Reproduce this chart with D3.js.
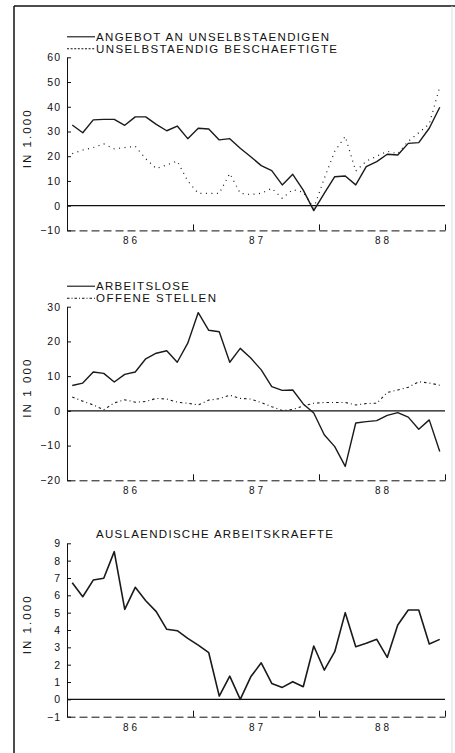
<!DOCTYPE html>
<html>
<head>
    <meta charset="utf-8">
    <title>Arbeitsmarkt 1986-1988</title>
    <script src="https://d3js.org/d3.v7.min.js"></script>
    <style>
        body {
            padding: 0;
            margin: 0;
            background: #fff;
        }

        text {
            font-family: "Liberation Sans", Arial, sans-serif;
            fill: #111;
        }

        .axis path, .axis line {
            stroke: #111;
        }
    </style>
</head>
<body>
    <svg id="svg" width="455" height="753"></svg>

    <script>
        // Categories: monthly values Jan 86 .. Dec 88.
        const years = ["86", "87", "88"];
        const months = years.flatMap(y => d3.range(1, 13).map(m => y + "-" + m));

        // Panel 1 (in 1.000)
        const angebot = [32.6, 29.5, 34.7, 34.9, 34.9, 32.5, 35.9, 35.9, 32.9, 30.3, 32.2, 27.1,
                         31.3, 31.0, 26.6, 27.1, 23.2, 19.8, 16.2, 14.2, 8.4, 12.7, 6.3, -2.0,
                         5.0, 11.7, 12.0, 8.4, 15.8, 17.8, 20.8, 20.5, 25.2, 25.5, 31.3, 39.8];
        const beschaeftigte = [21.0, 22.5, 23.5, 25.0, 23.0, 23.5, 24.0, 19.0, 15.0, 16.5, 18.0, 10.0,
                               5.0, 5.0, 5.0, 13.0, 5.0, 4.5, 5.0, 7.0, 3.0, 6.5, 5.5, -1.0,
                               11.0, 22.0, 28.0, 14.0, 18.0, 20.0, 22.0, 21.0, 26.0, 29.5, 33.0, 48.0];

        // Panel 2 (in 1 000)
        const arbeitslose = [7.3, 8.0, 11.2, 10.8, 8.3, 10.5, 11.2, 15.0, 16.6, 17.3, 14.0, 19.5,
                             28.3, 23.2, 22.8, 14.0, 18.0, 15.2, 11.8, 7.0, 5.9, 6.0, 2.0, -0.6,
                             -6.9, -10.3, -16.0, -3.5, -3.1, -2.8, -1.3, -0.5, -1.8, -5.3, -2.6, -11.7];
        const offeneStellen = [4.0, 2.8, 1.7, 0.3, 2.3, 3.2, 2.5, 2.7, 3.6, 3.4, 2.5, 2.2,
                               1.7, 3.1, 3.5, 4.5, 3.6, 3.4, 2.4, 1.2, 0.1, 0.4, 1.4, 2.2,
                               2.4, 2.4, 2.4, 1.7, 2.1, 2.2, 5.3, 6.0, 6.8, 8.4, 8.0, 7.4];

        // Panel 3 (in 1.000)
        const auslaender = [6.73, 5.92, 6.88, 6.98, 8.52, 5.19, 6.46, 5.69, 5.06, 4.04, 3.96, 3.52,
                            3.13, 2.69, 0.19, 1.34, 0.0, 1.3, 2.11, 0.92, 0.69, 1.02, 0.73, 3.08,
                            1.69, 2.75, 5.0, 3.04, 3.23, 3.46, 2.42, 4.29, 5.15, 5.15, 3.19, 3.46];

        const ticks1 = [60, 50, 40, 30, 20, 10, 0, -10];
        const ticks2 = [30, 20, 10, 0, -10, -20];
        const ticks3 = [9, 8, 7, 6, 5, 4, 3, 2, 1, 0, -1];

        const svg = d3.select("svg");
        const left = 67, right = 445;

        const x = d3.scaleBand().domain(months).range([left, right]).padding(0);
        const xc = m => x(m) + x.bandwidth() / 2;
        const xEdge = d3.scaleLinear().domain([0, 36]).range([left, right]);

        const panels = [
            {
                top: 57.3, bottom: 230.4, domain: [-10, 60], ticks: ticks1, unit: "IN 1.000",
                legend: [
                    { text: "ANGEBOT AN UNSELBSTAENDIGEN", len: 233, dash: null },
                    { text: "UNSELBSTAENDIG BESCHAEFTIGTE", len: 241, dash: "2,1.6" }
                ],
                series: [
                    { values: angebot, dash: null, width: 1.4 },
                    { values: beschaeftigte, dash: "1,4.5", width: 1.2 }
                ]
            },
            {
                top: 306.7, bottom: 480.3, domain: [-20, 30], ticks: ticks2, unit: "IN 1 000",
                legend: [
                    { text: "ARBEITSLOSE", len: 93, dash: null },
                    { text: "OFFENE STELLEN", len: 120, dash: "2.5,2,1,2" }
                ],
                series: [
                    { values: arbeitslose, dash: null, width: 1.4 },
                    { values: offeneStellen, dash: "2.5,3,1,3", width: 1.1 }
                ]
            },
            {
                top: 543.3, bottom: 716.7, domain: [-1, 9], ticks: ticks3, unit: "IN 1.000",
                title: { text: "AUSLAENDISCHE ARBEITSKRAEFTE", len: 237 },
                series: [
                    { values: auslaender, dash: null, width: 1.6 }
                ]
            }
        ];

        // Outer frame of the scanned sheet.
        svg.append("line").attr("x1", 14).attr("x2", 455).attr("y1", 6).attr("y2", 6)
            .attr("stroke", "#111").attr("stroke-width", 1.5);
        svg.append("line").attr("x1", 14).attr("x2", 14).attr("y1", 6).attr("y2", 753)
            .attr("stroke", "#111").attr("stroke-width", 1.5);
        svg.append("line").attr("x1", 452).attr("x2", 452).attr("y1", 6).attr("y2", 753)
            .attr("stroke", "#ddd").attr("stroke-width", 1);

        panels.forEach(p => {
            const y = d3.scaleLinear().domain(p.domain).range([p.bottom, p.top]);
            const g = svg.append("g");

            // Y-axis with inward ticks.
            const ya = g.append("g")
                .attr("class", "axis")
                .attr("transform", `translate(${left},0)`)
                .call(d3.axisLeft(y).tickValues(p.ticks).tickSizeInner(-4).tickSizeOuter(0).tickPadding(6));
            ya.selectAll("text")
                .attr("font-size", 10.5)
                .attr("letter-spacing", 1)
                .attr("font-family", "Liberation Sans, Arial, sans-serif");

            // Bottom axis: dashed, with year-boundary ticks pointing up.
            const xa = g.append("g")
                .attr("class", "axis")
                .attr("transform", `translate(0,${p.bottom})`)
                .call(d3.axisBottom(xEdge).tickValues([12, 24, 36]).tickSizeInner(-6).tickSizeOuter(0).tickFormat(""));
            xa.select(".domain").attr("stroke-dasharray", "8,4");

            // Year labels centred in each year.
            g.selectAll(".year")
                .data(years)
                .join("text")
                .attr("class", "year")
                .attr("x", (d, i) => xEdge(i * 12 + 6) + 1.5)
                .attr("y", p.bottom + 14)
                .attr("text-anchor", "middle")
                .attr("font-size", 10)
                .attr("letter-spacing", 3)
                .text(d => d);

            // Zero line.
            g.append("line")
                .attr("x1", left).attr("x2", right)
                .attr("y1", y(0)).attr("y2", y(0))
                .attr("stroke", "#111").attr("stroke-width", 1.2);

            // Unit label.
            g.append("text")
                .attr("transform", `translate(31,${p.top + 82}) rotate(-90)`)
                .attr("text-anchor", "middle")
                .attr("font-size", 11.5)
                .attr("textLength", 58)
                .attr("lengthAdjust", "spacing")
                .text(p.unit);

            // Data lines.
            p.series.forEach(s => {
                g.append("path")
                    .datum(s.values)
                    .attr("fill", "none")
                    .attr("stroke", "#1a1a1a")
                    .attr("stroke-width", s.width)
                    .attr("stroke-linejoin", "round")
                    .attr("stroke-dasharray", s.dash)
                    .attr("d", d3.line().x((d, i) => xc(months[i])).y(d => y(d)));
            });

            // Legend.
            (p.legend || []).forEach((l, i) => {
                const base = p.top - 16.5 + i * 12;
                g.append("line")
                    .attr("x1", left).attr("x2", 95)
                    .attr("y1", base - 4).attr("y2", base - 4)
                    .attr("stroke", "#111")
                    .attr("stroke-width", 1.1)
                    .attr("stroke-dasharray", l.dash);
                g.append("text")
                    .attr("x", 96).attr("y", base)
                    .attr("font-size", 11.5)
                    .attr("textLength", l.len)
                    .attr("lengthAdjust", "spacing")
                    .text(l.text);
            });

            if (p.title) {
                g.append("text")
                    .attr("x", 96).attr("y", p.top - 5)
                    .attr("font-size", 11.5)
                    .attr("textLength", p.title.len)
                    .attr("lengthAdjust", "spacing")
                    .text(p.title.text);
            }
        });
    </script>
</body>
</html>
